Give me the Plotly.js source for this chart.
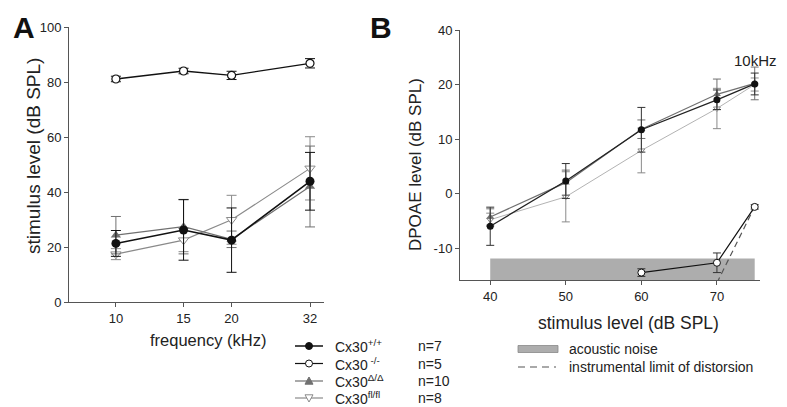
<!DOCTYPE html>
<html>
<head>
<meta charset="utf-8">
<script src="https://cdn.plot.ly/plotly-3.0.1.min.js"></script>
<style>html,body{margin:0;padding:0;background:#fff;}#chart{width:787px;height:407px;}</style>
</head>
<body>
<div id="chart"></div>
<script>
// ---------- Panel A data (threshold vs frequency) ----------
const freqA   = [10, 15, 20, 32];
const wtA     = [21.3, 26.2, 22.5, 43.9];
const wtAErr  = [4.7, 11.0, 11.7, 10.5];
const koA     = [81.1, 84.0, 82.4, 86.8];
const koAErr  = [1.0, 1.0, 1.5, 1.7];
const delA    = [24.3, 27.4, 22.8, 42.0];
const delAErr = [6.8, 9.9, 3.0, 14.7];
const flA     = [17.4, 22.5, 29.9, 48.6];
const flAErr  = [2.0, 4.2, 8.9, 11.5];
const freqTicks = [10, 15, 20, 32];

// ---------- Panel B data (DPOAE growth, 10 kHz) ----------
const levelB  = [40, 50, 60, 70, 75];
const wtB     = [-6.0, 2.3, 11.7, 17.2, 20.1];
const wtBErr  = [3.5, 3.2, 4.1, 1.8, 2.0];
const delB    = [-4.3, 2.0, 11.8, 18.2, 20.2];
const delBErr = [1.5, 2.3, 1.7, 2.8, 3.0];
const flB     = [-4.8, -0.6, 7.9, 15.6, 20.0];
const flBErr  = [1.2, 4.6, 4.1, 3.7, 1.2];
const koBx    = [60, 70, 75];
const koB     = [-14.5, -12.7, -2.45];
const koBErr  = [0.7, 1.8, 0.4];
const noiseX   = [40, 75];
const noiseTop = -11.9;
const noiseBottom = -20;
const limitX  = [70, 75];
const limitY  = [-16.4, -2.4];
const levelTicks = [40, 50, 60, 70];
const dpTicks = [-10, 0, 10, 20, 30];
const dpTickText = ['-10', '0', '10', '20', '40'];

// legend content
const legNames = ['Cx30<sup>+/+</sup>', 'Cx30<sup> -/-</sup>', 'Cx30<sup>Δ/Δ</sup>', 'Cx30<sup>fl/fl</sup>'];
const legN = ['n=7', 'n=5', 'n=10', 'n=8'];

const W = 787, H = 407;
const px = x => x / W;
const py = y => 1 - y / H;

const BLACK = '#111111', DGRAY = '#707070', FLGRAY = '#8a8a8a', FLLIGHT = '#b3b3b3';
const FONT = 'Arial, "Liberation Sans", sans-serif';

function errb(arr, color, w) {
  return {type: 'data', array: arr, visible: true, color: color, thickness: 1, width: w};
}

const traces = [
  // Panel A
  {x: freqA, y: flA, error_y: errb(flAErr, FLGRAY, 5), mode: 'lines+markers',
   line: {color: FLGRAY, width: 1.1},
   marker: {symbol: 'triangle-down', size: 9, color: '#ffffff', line: {color: FLGRAY, width: 1}},
   xaxis: 'x', yaxis: 'y', showlegend: false},
  {x: freqA, y: delA, error_y: errb(delAErr, DGRAY, 5), mode: 'lines+markers',
   line: {color: DGRAY, width: 1.2},
   marker: {symbol: 'triangle-up', size: 9, color: DGRAY},
   xaxis: 'x', yaxis: 'y', showlegend: false},
  {x: freqA, y: wtA, error_y: errb(wtAErr, BLACK, 5), mode: 'lines+markers',
   line: {color: BLACK, width: 1.6},
   marker: {symbol: 'circle', size: 9, color: BLACK},
   xaxis: 'x', yaxis: 'y', showlegend: false},
  {x: freqA, y: koA, error_y: errb(koAErr, BLACK, 5), mode: 'lines+markers',
   line: {color: BLACK, width: 1.3},
   marker: {symbol: 'circle', size: 8, color: '#ffffff', line: {color: BLACK, width: 1.2}},
   xaxis: 'x', yaxis: 'y', showlegend: false},

  // Panel B: acoustic noise band
  {x: [noiseX[0], noiseX[1], noiseX[1], noiseX[0], noiseX[0]],
   y: [noiseBottom, noiseBottom, noiseTop, noiseTop, noiseBottom],
   mode: 'lines', fill: 'toself', fillcolor: '#adadad', line: {width: 0, color: '#adadad'},
   xaxis: 'x2', yaxis: 'y2', showlegend: false, hoverinfo: 'skip'},
  // instrumental limit
  {x: limitX, y: limitY, mode: 'lines', line: {color: '#555555', width: 1.2, dash: '6px,4px'},
   xaxis: 'x2', yaxis: 'y2', showlegend: false},
  {x: levelB, y: flB, error_y: errb(flBErr, FLGRAY, 4), mode: 'lines+markers',
   line: {color: FLLIGHT, width: 1},
   marker: {symbol: 'triangle-down', size: 6, color: '#ffffff', line: {color: FLGRAY, width: 1}},
   xaxis: 'x2', yaxis: 'y2', showlegend: false},
  {x: levelB, y: delB, error_y: errb(delBErr, DGRAY, 4), mode: 'lines+markers',
   line: {color: DGRAY, width: 1.2},
   marker: {symbol: 'triangle-up', size: 7, color: DGRAY},
   xaxis: 'x2', yaxis: 'y2', showlegend: false},
  {x: levelB, y: wtB, error_y: errb(wtBErr, '#333333', 4), mode: 'lines+markers',
   line: {color: '#222222', width: 1.3},
   marker: {symbol: 'circle', size: 7, color: BLACK},
   xaxis: 'x2', yaxis: 'y2', showlegend: false},
  {x: koBx, y: koB, error_y: errb(koBErr, '#333333', 4), mode: 'lines+markers',
   line: {color: BLACK, width: 1.2},
   marker: {symbol: 'circle', size: 7, color: '#ffffff', line: {color: BLACK, width: 1}},
   xaxis: 'x2', yaxis: 'y2', showlegend: false, cliponaxis: false}
];

const axisCommon = {
  showline: true, linecolor: '#555555', linewidth: 1,
  ticks: 'outside', ticklen: 4, tickcolor: '#555555', tickwidth: 1,
  showgrid: false, zeroline: false,
  tickfont: {family: FONT, size: 13, color: '#222222'}
};

const shapes = [];
const annotations = [];

// legend samples (left group)
const legRows = [346, 363.5, 381, 398];
legRows.forEach((yy, i) => {
  const col = (i < 2) ? BLACK : (i === 2 ? DGRAY : FLGRAY);
  shapes.push({type: 'line', xref: 'paper', yref: 'paper',
    x0: px(295), x1: px(323), y0: py(yy), y1: py(yy), line: {color: col, width: i === 0 ? 1.5 : 1.2}});
  annotations.push({xref: 'paper', yref: 'paper', x: px(333), y: py(yy), xanchor: 'left', yanchor: 'middle',
    text: legNames[i], showarrow: false, font: {family: FONT, size: 14, color: '#222'}});
  annotations.push({xref: 'paper', yref: 'paper', x: px(416), y: py(yy), xanchor: 'left', yanchor: 'middle',
    text: legN[i], showarrow: false, font: {family: FONT, size: 14, color: '#222'}});
});
// markers for legend
const r = 3.5;
shapes.push({type: 'circle', xref: 'paper', yref: 'paper', x0: px(309 - r), x1: px(309 + r),
  y0: py(legRows[0] + r), y1: py(legRows[0] - r), fillcolor: BLACK, line: {color: BLACK, width: 1}});
shapes.push({type: 'circle', xref: 'paper', yref: 'paper', x0: px(309 - r), x1: px(309 + r),
  y0: py(legRows[1] + r), y1: py(legRows[1] - r), fillcolor: '#ffffff', line: {color: BLACK, width: 1}});
function tri(cx, cy, s, up) {
  const pts = up ? [[cx, cy - s], [cx + s, cy + s * 0.8], [cx - s, cy + s * 0.8]]
                 : [[cx, cy + s], [cx + s, cy - s * 0.8], [cx - s, cy - s * 0.8]];
  return 'M' + pts.map(p => px(p[0]) + ',' + py(p[1])).join('L') + 'Z';
}
shapes.push({type: 'path', xref: 'paper', yref: 'paper', path: tri(309, legRows[2], 4, true),
  fillcolor: DGRAY, line: {color: DGRAY, width: 1}});
shapes.push({type: 'path', xref: 'paper', yref: 'paper', path: tri(309, legRows[3], 4, false),
  fillcolor: '#ffffff', line: {color: FLGRAY, width: 1}});

// right legend
shapes.push({type: 'rect', xref: 'paper', yref: 'paper', x0: px(518), x1: px(558), y0: py(352.5), y1: py(345.5),
  fillcolor: '#adadad', line: {color: '#888888', width: 0.8}});
shapes.push({type: 'line', xref: 'paper', yref: 'paper', x0: px(518), x1: px(556), y0: py(367), y1: py(367),
  line: {color: '#555555', width: 1.2, dash: '7px,5px'}});
annotations.push({xref: 'paper', yref: 'paper', x: px(567), y: py(349), xanchor: 'left', yanchor: 'middle',
  text: 'acoustic noise', showarrow: false, font: {family: FONT, size: 14, color: '#222'}});
annotations.push({xref: 'paper', yref: 'paper', x: px(567), y: py(367), xanchor: 'left', yanchor: 'middle',
  text: 'instrumental limit of distorsion', showarrow: false, font: {family: FONT, size: 14, color: '#222'}});

// panel letters, titles
annotations.push({xref: 'paper', yref: 'paper', x: px(24), y: py(27), xanchor: 'center', yanchor: 'middle',
  text: '<b>A</b>', showarrow: false, font: {family: FONT, size: 30, color: '#111'}});
annotations.push({xref: 'paper', yref: 'paper', x: px(381), y: py(27), xanchor: 'center', yanchor: 'middle',
  text: '<b>B</b>', showarrow: false, font: {family: FONT, size: 30, color: '#111'}});
annotations.push({xref: 'paper', yref: 'paper', x: px(755), y: py(61), xanchor: 'center', yanchor: 'middle',
  text: '10kHz', showarrow: false, font: {family: FONT, size: 15, color: '#222'}});
annotations.push({xref: 'paper', yref: 'paper', x: px(33), y: py(156), xanchor: 'center', yanchor: 'middle',
  text: 'stimulus level (dB SPL)', textangle: -90, showarrow: false, font: {family: FONT, size: 19, color: '#222'}});
annotations.push({xref: 'paper', yref: 'paper', x: px(415), y: py(165), xanchor: 'center', yanchor: 'middle',
  text: 'DPOAE level (dB SPL)', textangle: -90, showarrow: false, font: {family: FONT, size: 17, color: '#222'}});
annotations.push({xref: 'paper', yref: 'paper', x: px(208), y: py(340), xanchor: 'center', yanchor: 'middle',
  text: 'frequency (kHz)', showarrow: false, font: {family: FONT, size: 16.5, color: '#222'}});
annotations.push({xref: 'paper', yref: 'paper', x: px(628), y: py(323), xanchor: 'center', yanchor: 'middle',
  text: 'stimulus level (dB SPL)', showarrow: false, font: {family: FONT, size: 17.5, color: '#222'}});

const layout = {
  width: W, height: H,
  margin: {l: 0, r: 0, t: 0, b: 0},
  paper_bgcolor: '#ffffff', plot_bgcolor: 'rgba(0,0,0,0)',
  showlegend: false,
  xaxis: Object.assign({}, axisCommon, {
    domain: [px(69), px(324)], anchor: 'y', type: 'log',
    range: [Math.log10(7.55), Math.log10(34.8)],
    tickmode: 'array', tickvals: freqTicks, ticktext: freqTicks.map(String)
  }),
  yaxis: Object.assign({}, axisCommon, {
    domain: [py(302), py(27)], anchor: 'x', range: [0, 100],
    tickmode: 'array', tickvals: [0, 20, 40, 60, 80, 100]
  }),
  xaxis2: Object.assign({}, axisCommon, {
    domain: [px(460), px(760)], anchor: 'y2', range: [36.0, 75.7],
    tickmode: 'array', tickvals: levelTicks
  }),
  yaxis2: Object.assign({}, axisCommon, {
    domain: [py(280), py(30)], anchor: 'x2', range: [-15.86, 30],
    tickmode: 'array', tickvals: dpTicks, ticktext: dpTickText
  }),
  shapes: shapes,
  annotations: annotations
};

Plotly.newPlot('chart', traces, layout, {staticPlot: true, displayModeBar: false});
</script>
</body>
</html>
